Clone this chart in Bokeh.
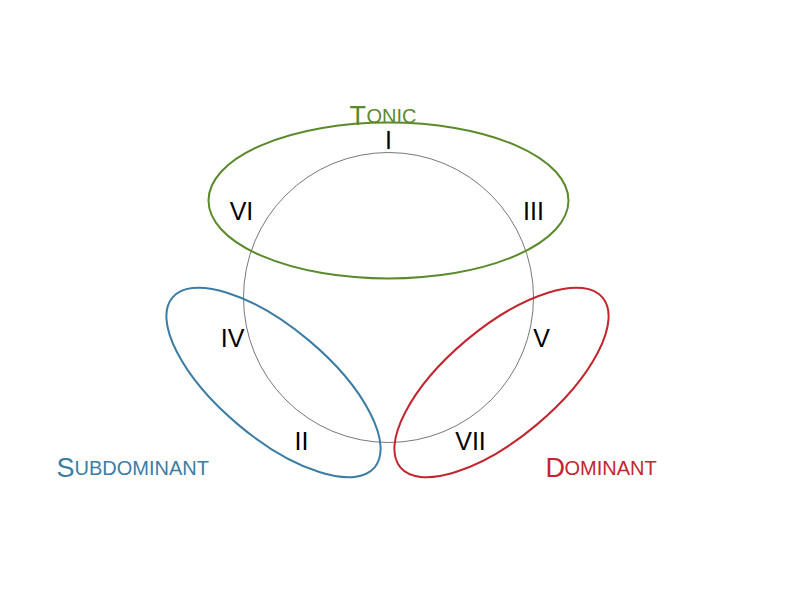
from bokeh.plotting import figure
from bokeh.core.properties import value
from bokeh.resources import INLINE
from bokeh.embed import file_html

W, H = 776, 596

# chord numerals and where they sit (page pixels, y measured from top)
numerals = ["I", "III", "V", "VII", "II", "IV", "VI"]
num_x = [396, 541, 549, 478, 309, 240, 249]
num_y = [147, 218, 345, 448, 448, 345, 218]

# function groups: ellipse centre, semi-axes, tilt (degrees), colour
groups = ["Tonic", "Subdominant", "Dominant"]
grp_cx = [396, 281, 509]
grp_cy = [208, 390, 390]
grp_a = [180, 132, 132]
grp_b = [78, 55, 55]
grp_tilt = [0, -40, 40]
grp_color = ["#5b8a2b", "#3b7da4", "#c3262f"]
# small-caps label: first letter x, rest x, baseline y
lab_x0 = [357, 64, 553]
lab_x1 = [374, 82, 572]
lab_y = [123, 475, 475]

circle_cx, circle_cy, circle_r = 396, 305, 145


def px(x):
    return x - 8


def py(y):
    return H - (y - 8)


p = figure(width=W, height=H, x_range=(0, W), y_range=(0, H),
           output_backend="svg", toolbar_location=None, min_border=0)
p.axis.visible = False
p.grid.visible = False
p.outline_line_color = None

p.circle(x=[px(circle_cx)], y=[py(circle_cy)], radius=circle_r,
         fill_color=None, line_color="#555555", line_width=0.8)

for i, g in enumerate(groups):
    p.ellipse(x=[px(grp_cx[i])], y=[py(grp_cy[i])],
              width=2 * grp_a[i], height=2 * grp_b[i],
              angle=grp_tilt[i], angle_units="deg",
              fill_color=None, line_color=grp_color[i], line_width=2)
    word = g.upper()
    p.text(x=[px(lab_x0[i])], y=[py(lab_y[i])], text=[word[0]],
           text_font=value("Liberation Sans"), text_font_size="27px",
           text_color=grp_color[i], text_baseline="alphabetic")
    p.text(x=[px(lab_x1[i])], y=[py(lab_y[i])], text=[word[1:]],
           text_font=value("Liberation Sans"), text_font_size="20px",
           text_color=grp_color[i], text_baseline="alphabetic")

p.text(x=[px(v) for v in num_x], y=[py(v) for v in num_y], text=numerals,
       text_font=value("Liberation Sans"), text_font_size="25px",
       text_color="black", text_align="center", text_baseline="middle")

open("out.html", "w").write(file_html(p, INLINE))
